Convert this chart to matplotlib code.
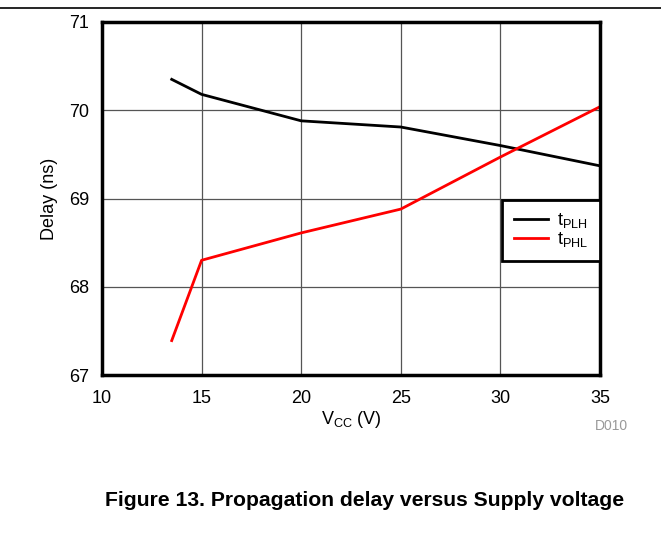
import matplotlib
matplotlib.use('Agg')
from matplotlib import pyplot as plt
from matplotlib.lines import Line2D

plt.rcParams['font.family'] = ['Liberation Sans', 'DejaVu Sans']
plt.rcParams['mathtext.fontset'] = 'custom'
plt.rcParams['mathtext.rm'] = 'Liberation Sans'

vcc = [13.5, 15, 20, 25, 30, 35]
t_plh = [70.35, 70.18, 69.88, 69.81, 69.60, 69.37]
t_phl = [67.39, 68.30, 68.61, 68.88, 69.47, 70.04]
x_ticks = [10, 15, 20, 25, 30, 35]
y_ticks = [67, 68, 69, 70, 71]

fig = plt.figure(figsize=(6.61, 5.36), dpi=100)
ax = fig.add_axes([102 / 661, 1 - 375 / 536, 498 / 661, 353 / 536])

ax.plot(vcc, t_plh, color='black', lw=2, label=r'$\mathregular{t_{PLH}}$')
ax.plot(vcc, t_phl, color='red', lw=2, label=r'$\mathregular{t_{PHL}}$')

ax.set_xlim(10, 35)
ax.set_ylim(67, 71)
ax.set_xticks(x_ticks)
ax.set_yticks(y_ticks)
ax.grid(True, color='#555555', lw=0.9)
ax.tick_params(length=0, labelsize=13)
ax.tick_params(axis='x', pad=11)
ax.tick_params(axis='y', pad=9)
for s in ax.spines.values():
    s.set_linewidth(2.5)
ax.set_xlabel(r'$\mathregular{V_{CC}}$ (V)', fontsize=13, labelpad=1)
ax.set_ylabel('Delay (ns)', fontsize=13, labelpad=8)

leg = ax.legend(loc='center right', bbox_to_anchor=(1.0, 0.41), fontsize=13,
                frameon=True, fancybox=False, edgecolor='black', framealpha=1,
                handlelength=1.9, borderpad=0.65, labelspacing=0.0, borderaxespad=0,
                handletextpad=0.5)
leg.get_frame().set_linewidth(2)

fig.add_artist(Line2D([0, 1], [1 - 8 / 536, 1 - 8 / 536], color='black', lw=1.2))
fig.text(611 / 661, 1 - 426 / 536, 'D010', color='#999999', fontsize=10, ha='center', va='center')
fig.text(365 / 661, 1 - 500 / 536, 'Figure 13. Propagation delay versus Supply voltage',
         fontsize=15.2, fontweight='bold', ha='center', va='center')

fig.savefig('out.png', dpi=100)
